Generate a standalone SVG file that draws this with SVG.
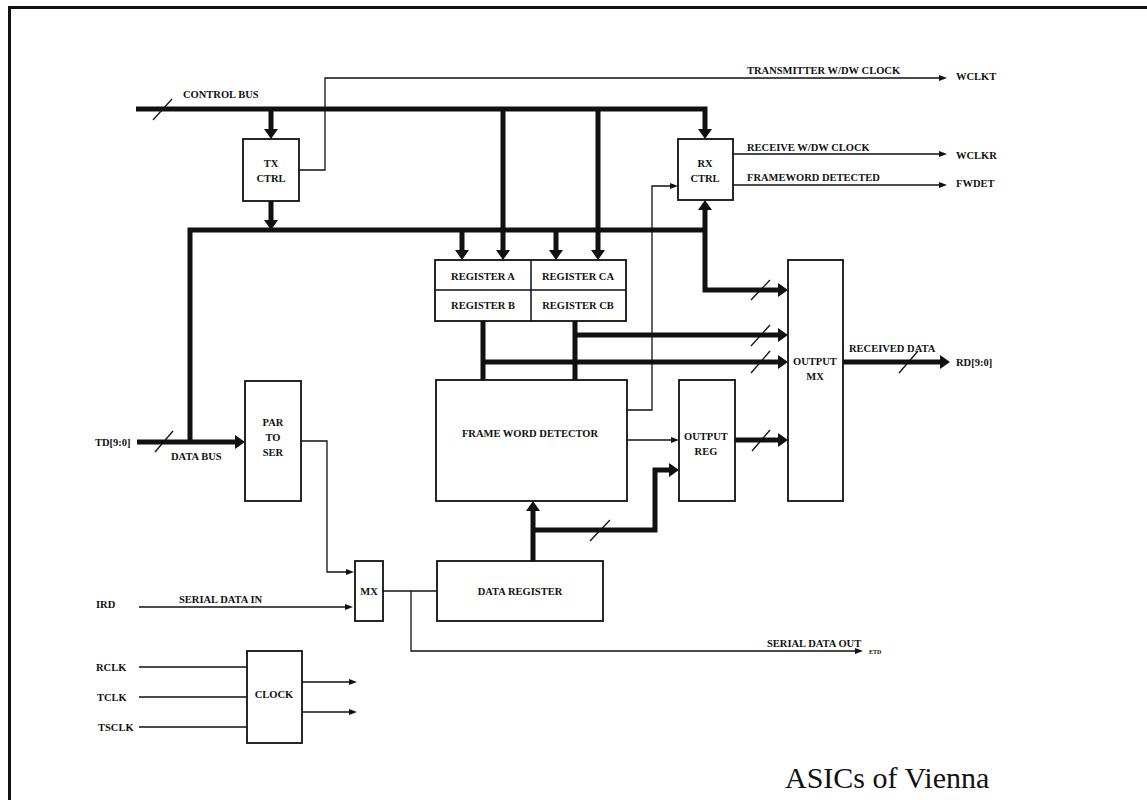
<svg xmlns="http://www.w3.org/2000/svg" width="1147" height="800" viewBox="0 0 1147 800">
<style>
text{font-family:"Liberation Serif","Times New Roman",serif;font-weight:bold;font-size:10.5px;fill:#111}
.c{text-anchor:middle}
.box{fill:#fff;stroke:#111;stroke-width:1.8}
.bus{fill:none;stroke:#111;stroke-width:5;stroke-linejoin:miter}
.thin{fill:none;stroke:#111;stroke-width:1.3}
.sl{stroke:#111;stroke-width:1.3}
</style>
<defs>
<marker id="ah" markerUnits="userSpaceOnUse" markerWidth="12" markerHeight="14" refX="2" refY="7" orient="auto"><path d="M0,0 L10,7 L0,14 z" fill="#111"/></marker>
<marker id="at" markerUnits="userSpaceOnUse" markerWidth="8" markerHeight="6" refX="1" refY="3" orient="auto"><path d="M0,0 L8,3 L0,6 z" fill="#111"/></marker>
</defs>
<rect width="1147" height="800" fill="#fff"/>
<path d="M9.5,800 V7.5 H1147" fill="none" stroke="#111" stroke-width="3"/>

<g id="connectors">
<!-- control bus -->
<path class="bus" d="M136,109 H705 V131" marker-end="url(#ah)"/>
<path class="bus" d="M271,109 V131" marker-end="url(#ah)"/>
<path class="bus" d="M503,109 V252" marker-end="url(#ah)"/>
<path class="bus" d="M598,109 V252" marker-end="url(#ah)"/>
<line class="sl" x1="153" y1="120" x2="172" y2="99"/>
<!-- tx ctrl to data bus -->
<path class="bus" d="M271,201 V222" marker-end="url(#ah)"/>
<!-- data bus -->
<path class="bus" d="M190,442 V230 H705"/>
<path class="bus" d="M705,230 V208" marker-end="url(#ah)"/>
<path class="bus" d="M705,230 V290 H780" marker-end="url(#ah)"/>
<line class="sl" x1="751" y1="300" x2="770" y2="280"/>
<path class="bus" d="M462,230 V252" marker-end="url(#ah)"/>
<path class="bus" d="M556,230 V252" marker-end="url(#ah)"/>
<path class="bus" d="M137,442 H237" marker-end="url(#ah)"/>
<line class="sl" x1="155" y1="452" x2="173" y2="431"/>
<!-- register outputs -->
<path class="bus" d="M483,321 V380"/>
<path class="bus" d="M575,321 V380"/>
<path class="bus" d="M575,335 H780" marker-end="url(#ah)"/>
<line class="sl" x1="751" y1="346" x2="770" y2="325"/>
<path class="bus" d="M483,362 H780" marker-end="url(#ah)"/>
<line class="sl" x1="751" y1="373" x2="770" y2="351"/>
<!-- output reg to output mx -->
<path class="bus" d="M735,440 H780" marker-end="url(#ah)"/>
<line class="sl" x1="752" y1="451" x2="770" y2="430"/>
<!-- received data -->
<path class="bus" d="M843,362 H942" marker-end="url(#ah)"/>
<line class="sl" x1="899" y1="373" x2="918" y2="351"/>
<!-- data register up -->
<path class="bus" d="M533,561 V509" marker-end="url(#ah)"/>
<path class="bus" d="M533,530 H655 V470 H671" marker-end="url(#ah)"/>
<line class="sl" x1="590" y1="541" x2="610" y2="520"/>
<!-- thin signals -->
<path class="thin" d="M299,170 H325 V78 H940" marker-end="url(#at)"/>
<path class="thin" d="M733,154 H940" marker-end="url(#at)"/>
<path class="thin" d="M733,185 H940" marker-end="url(#at)"/>
<path class="thin" d="M627,410 H652 V186 H671" marker-end="url(#at)"/>
<path class="thin" d="M627,440 H672" marker-end="url(#at)"/>
<path class="thin" d="M301,441 H327 V572 H347" marker-end="url(#at)"/>
<path class="thin" d="M139,607 H346" marker-end="url(#at)"/>
<path class="thin" d="M383,591 H437"/>
<path class="thin" d="M411,591 V651 H856" marker-end="url(#at)"/>
<path class="thin" d="M139,667 H247 M139,697 H247 M139,727 H247"/>
<path class="thin" d="M302,682 H350" marker-end="url(#at)"/>
<path class="thin" d="M302,712 H350" marker-end="url(#at)"/>
</g>

<g id="labels">
<text x="183" y="98">CONTROL BUS</text>
<text x="747" y="74">TRANSMITTER W/DW CLOCK</text>
<text x="956" y="80">WCLKT</text>
<text x="747" y="151">RECEIVE W/DW CLOCK</text>
<text x="956" y="159">WCLKR</text>
<text x="747" y="181">FRAMEWORD DETECTED</text>
<text x="956" y="187">FWDET</text>
<text x="95" y="446">TD[9:0]</text>
<text x="171" y="460">DATA BUS</text>
<text x="849" y="352">RECEIVED DATA</text>
<text x="956" y="366">RD[9:0]</text>
<text x="96" y="608">IRD</text>
<text x="179" y="603">SERIAL DATA IN</text>
<text x="767" y="647">SERIAL DATA OUT</text>
<text x="869" y="654" style="font-size:6px">ETD</text>
<text x="96" y="671">RCLK</text>
<text x="97" y="701">TCLK</text>
<text x="98" y="731">TSCLK</text>
<text x="785" y="788" style="font-weight:normal;font-size:30px">ASICs of Vienna</text>
</g>

<g id="tx-ctrl"><rect class="box" x="243" y="139" width="56" height="62"/><text class="c" x="271" y="167">TX</text><text class="c" x="271" y="182">CTRL</text></g>
<g id="rx-ctrl"><rect class="box" x="678" y="139" width="55" height="61"/><text class="c" x="705" y="167">RX</text><text class="c" x="705" y="182">CTRL</text></g>
<g id="registers">
<rect class="box" x="435" y="260" width="191" height="61"/>
<path class="thin" d="M531,260 V321 M435,290 H626" style="stroke-width:1.5"/>
<text class="c" x="483" y="280">REGISTER A</text>
<text class="c" x="578" y="280">REGISTER CA</text>
<text class="c" x="483" y="309">REGISTER B</text>
<text class="c" x="578" y="309">REGISTER CB</text>
</g>
<g id="par-to-ser"><rect class="box" x="245" y="381" width="56" height="120"/><text class="c" x="273" y="426">PAR</text><text class="c" x="273" y="441">TO</text><text class="c" x="273" y="456">SER</text></g>
<g id="frame-word-detector"><rect class="box" x="436" y="380" width="191" height="121"/><text class="c" x="530" y="437">FRAME WORD DETECTOR</text></g>
<g id="output-reg"><rect class="box" x="679" y="380" width="56" height="121"/><text class="c" x="706" y="440">OUTPUT</text><text class="c" x="706" y="455">REG</text></g>
<g id="output-mx"><rect class="box" x="788" y="260" width="55" height="241"/><text class="c" x="815" y="365">OUTPUT</text><text class="c" x="815" y="380">MX</text></g>
<g id="mx"><rect class="box" x="355" y="561" width="28" height="60"/><text class="c" x="369" y="595">MX</text></g>
<g id="data-register"><rect class="box" x="437" y="561" width="166" height="60"/><text class="c" x="520" y="595">DATA REGISTER</text></g>
<g id="clock"><rect class="box" x="247" y="651" width="55" height="92"/><text class="c" x="274" y="698">CLOCK</text></g>
</svg>
